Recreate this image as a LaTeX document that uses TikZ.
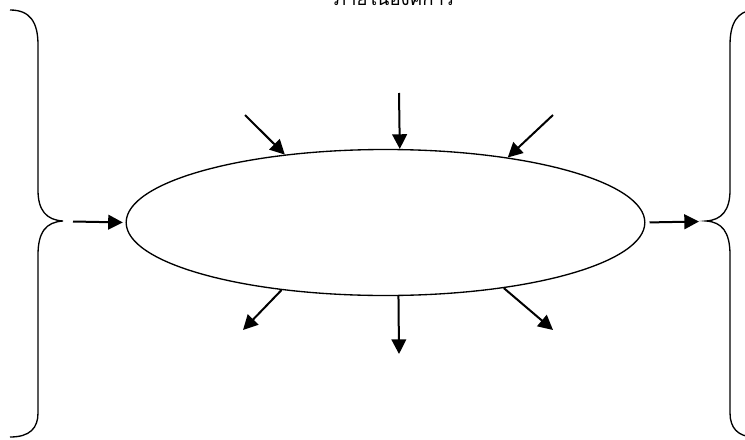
\documentclass[tikz,border=0pt]{standalone}
\usepackage{fontspec}
\newfontfamily\thaifont[Script=Thai]{Loma}
\usetikzlibrary{arrows.meta,shapes.geometric}

\begin{document}
\begin{tikzpicture}[x=.75pt, y=-.75pt, >={Triangle[length=11pt,width=11pt]}, line width=1.5pt]
    \useasboundingbox (0,0) rectangle (745,439);

    % centre ellipse
    \node[ellipse, draw, line width=1pt, inner sep=0pt,
          minimum width=389pt, minimum height=109.5pt] (core) at (385.5,222.5) {};

    \node[anchor=base] (title) at (394,5) {\thaifont\fontsize{14}{16}\selectfont ภายในองค์การ};

    % braces
    \draw[line width=1pt] (10,10) .. controls (30,10) and (38,22) .. (38,45) -- (38,190)
        .. controls (38,210) and (46,220) .. (63,221) .. controls (46,222) and (38,232) .. (38,255)
        -- (38,413) .. controls (38,428) and (30,437) .. (10,437);
    \draw[line width=1pt] (752,10) .. controls (738,12) and (730,22) .. (730,45) -- (730,190)
        .. controls (730,210) and (722,220) .. (706,221) .. controls (722,222) and (730,232) .. (730,255)
        -- (730,413) .. controls (730,428) and (738,436) .. (752,437);

    \coordinate (lin) at (73,221.5);
    \coordinate (rout) at (699,221.5);
    \coordinate (inNW) at (245,115);
    \coordinate (inN) at (399,93);
    \coordinate (inNE) at (553,115);
    \coordinate (outSW) at (243,330);
    \coordinate (outS) at (399,354);
    \coordinate (outSE) at (553,330);

    \draw[->, shorten >=2pt] (lin) -- (core.west);
    \draw[->, shorten <=3pt] (core.east) -- (rout);

    \draw[->] (inNW) -- (core.146);
    \draw[->] (inN) -- (core.79.5);
    \draw[->] (inNE) -- (core.28);
    \draw[->] (core.213.5) -- (outSW);
    \draw[->] (core.280.5) -- (outS);
    \draw[->] (core.331.5) -- (outSE);
\end{tikzpicture}
\end{document}
